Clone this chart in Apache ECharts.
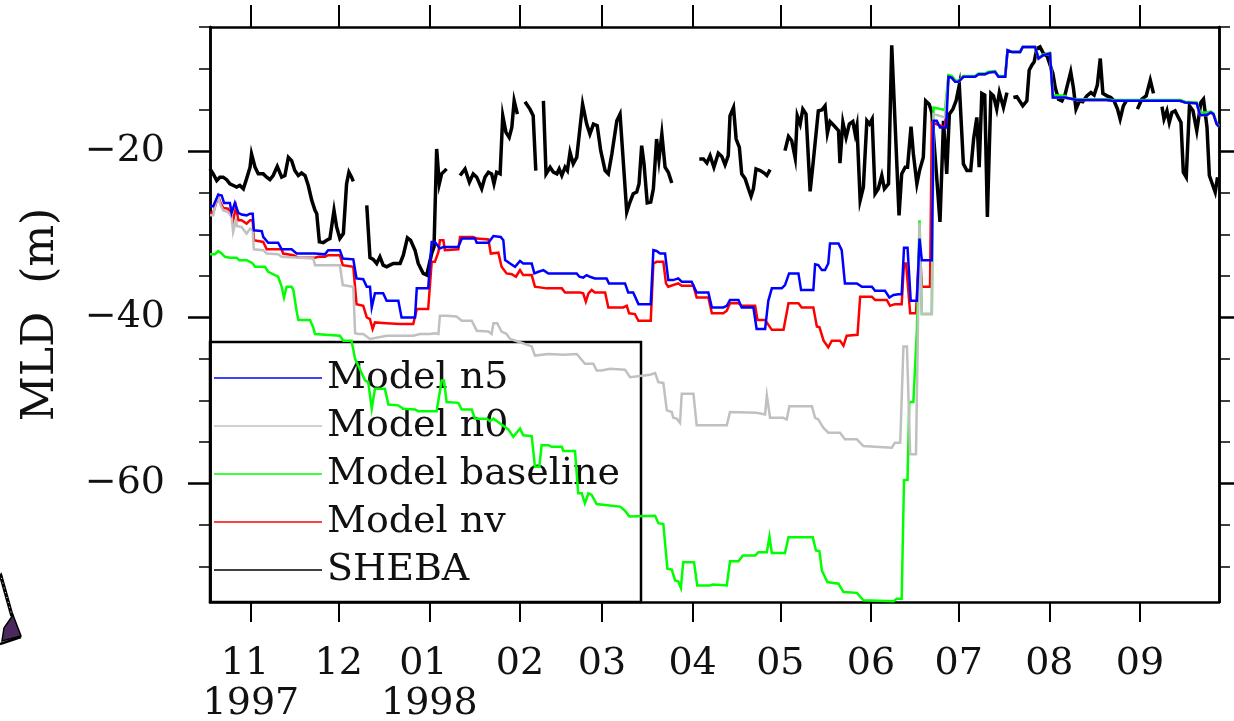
<!DOCTYPE html>
<html>
<head>
<meta charset="utf-8">
<script src="https://cdn.jsdelivr.net/npm/echarts@6/dist/echarts.min.js"></script>
<style>
  html, body { margin: 0; padding: 0; background: #fff; }
  #chart { width: 1234px; height: 721px; }
</style>
</head>
<body>
<div id="chart"></div>
<script>
// Mixed-layer depth (m, negative downward) during SHEBA, Oct 1997 - Sep 1998.
// Time is in days of 1997 (1 = 1 Jan 1997, 366 = 1 Jan 1998).

const monthDays   = [305, 335, 366, 397, 425, 456, 486, 517, 547, 578, 609];
const monthLabels = ['11 \n1997', '12', '01 \n1998', '02', '03', '04', '05', '06', '07', '08', '09'];
const depthTicks      = [-60, -40, -20];
const depthMinorTicks = [-70, -65, -55, -50, -45, -35, -30, -25, -15, -10, -5];

// SHEBA observed MLD; null marks a gap in the record
const sheba = [
  [291.0,-22.1],[292.1,-22.7],[293.3,-23.5],[294.4,-23.1],[295.5,-23.1],[296.7,-23.4],[297.8,-23.9],[299.0,-24.1],[300.1,-24.3],[301.2,-24.1],
  [302.4,-24.5],[303.5,-23.3],[304.7,-21.9],[305.2,-20.3],[306.4,-21.9],[307.5,-22.7],[309.2,-22.7],[310.4,-23.1],[311.5,-23.4],[312.6,-22.9],
  [314.0,-21.8],[315.5,-23.1],[316.6,-22.9],[317.8,-20.7],[318.9,-21.1],[320.0,-22.3],[321.2,-22.9],[322.3,-22.6],[323.5,-22.9],[324.6,-24.1],
  [325.8,-25.9],[326.9,-27.1],[327.5,-27.5],[328.4,-30.9],[329.7,-31.0],[330.9,-30.7],[332.0,-30.5],[333.4,-27.1],[334.3,-29.1],[335.4,-30.5],
  [336.6,-29.9],[337.7,-23.9],[338.5,-22.5],[339.4,-23.1],[340.0,-23.6],[342.0,null],
  [344.6,-26.5],[345.7,-32.8],[346.8,-33.0],[348.0,-33.5],[349.1,-32.7],[350.2,-33.7],[351.4,-33.9],[352.5,-33.7],[353.7,-33.5],[356.0,-33.5],
  [357.1,-32.5],[358.5,-30.4],[359.6,-30.7],[361.1,-31.9],[362.2,-33.5],[363.9,-34.7],[365.1,-34.9],[366.8,-32.3],[367.6,-31.5],[368.5,-19.7],
  [369.4,-23.9],[370.2,-22.7],[371.9,-22.1],[374.0,null],
  [376.5,-22.9],[378.2,-22.1],[379.7,-23.7],[381.0,-22.7],[382.2,-23.1],[383.9,-24.5],[385.0,-23.1],[386.2,-22.5],[387.3,-22.7],[388.1,-23.9],
  [389.0,-22.5],[390.2,-22.7],[391.1,-15.7],[392.2,-17.7],[393.3,-18.3],[394.2,-17.1],[395.0,-13.9],[396.1,-15.5],[397.5,null],
  [398.7,-14.0],[400.4,-14.9],[401.5,-15.7],[402.4,-22.3],[403.7,null],
  [405.0,-13.9],[405.9,-22.7],[407.3,-21.9],[408.4,-22.5],[409.6,-22.7],[410.4,-22.1],[411.3,-22.9],[412.4,-21.9],[413.2,-22.3],[414.1,-20.1],
  [415.2,-21.5],[416.4,-20.7],[418.4,-14.3],[419.8,-16.7],[420.9,-17.9],[422.1,-16.7],[423.4,-16.9],[424.6,-19.9],[426.1,-22.3],[427.2,-22.7],
  [428.4,-20.3],[430.1,-16.3],[431.2,-15.5],[433.5,-27.3],[434.6,-26.1],[435.7,-25.1],[436.9,-24.9],[437.7,-23.9],[438.6,-19.3],[439.4,-21.5],
  [440.5,-26.2],[441.7,-26.1],[442.6,-24.5],[443.7,-18.5],[444.5,-21.0],[445.5,-17.9],[446.6,-21.9],[447.7,-22.5],[448.9,-23.8],[453.0,null],
  [458.3,-20.9],[459.7,-20.9],[460.9,-21.4],[462.0,-20.5],[463.3,-21.9],[464.8,-20.2],[466.0,-20.6],[467.1,-21.6],[468.2,-20.5],[468.8,-15.7],
  [470.0,-14.7],[470.9,-18.5],[472.0,-19.5],[472.8,-22.7],[474.0,-23.3],[475.1,-24.5],[476.0,-25.4],[476.8,-24.5],[477.7,-22.1],[479.1,-22.3],
  [480.5,-22.6],[481.4,-22.9],[482.5,-22.2],[485.0,null],
  [487.6,-19.9],[488.8,-18.2],[489.9,-18.7],[491.1,-20.8],[491.8,-15.7],[492.8,-16.7],[493.7,-14.9],[494.8,-15.5],[496.2,-24.8],[497.3,-21.1],
  [499.0,-15.1],[500.2,-15.0],[501.3,-14.5],[502.1,-17.8],[503.0,-16.4],[504.4,-16.9],[505.9,-17.5],[506.4,-21.4],[507.4,-16.5],[508.5,-18.3],
  [509.6,-16.7],[510.8,-16.4],[511.6,-17.9],[512.2,-16.9],[513.3,-25.9],[514.4,-24.3],[515.6,-16.3],[516.5,-16.7],[517.4,-16.1],[518.4,-25.1],
  [519.5,-24.5],[520.7,-22.9],[521.6,-24.5],[523.0,-23.9],[524.1,-7.2],[526.6,-27.7],[527.5,-22.7],[528.7,-21.9],[529.5,-21.9],[530.7,-17.0],
  [531.5,-20.3],[532.7,-23.9],[533.6,-22.3],[534.9,-20.7],[535.7,-13.9],[536.9,-14.3],[537.8,-15.3],[539.3,-22.3],[540.6,-28.5],[541.8,-16.3],
  [542.9,-22.7],[543.8,-15.5],[545.0,-14.9],[546.1,-13.9],[547.2,-12.0],[548.6,-21.5],[549.8,-22.3],[551.1,-22.3],[552.1,-18.5],[553.2,-15.9],
  [554.0,-21.9],[554.9,-13.0],[555.9,-13.2],[556.8,-27.9],[558.0,-13.0],[558.9,-13.3],[560.0,-14.9],[560.9,-12.9],[562.3,-14.7],[563.5,-12.9],
  [564.6,null],
  [565.7,-13.5],[566.9,-13.4],[567.8,-13.9],[568.9,-14.5],[570.3,-13.9],[571.1,-10.2],[572.0,-9.6],[572.8,-9.2],[573.7,-7.6],[574.8,-7.4],
  [576.0,-8.2],[577.2,-8.5],[579.2,-10.6],[580.0,-12.3],[581.1,-13.7],[582.3,-13.9],[583.4,-13.1],[585.3,-10.4],[586.2,-12.3],[587.1,-14.9],
  [588.3,-13.9],[589.4,-14.0],[590.8,-13.3],[592.2,-12.9],[593.3,-13.2],[594.4,-12.0],[595.4,-8.8],[596.3,-13.0],[597.7,-13.3],[599.0,-13.5],
  [600.1,-13.9],[601.3,-14.9],[602.2,-16.1],[603.3,-14.5],[604.3,-13.9],[606.0,null],
  [608.1,-14.9],[609.6,-13.7],[611.1,-13.3],[612.5,-11.4],[613.6,-13.0],[615.0,null],
  [616.5,-14.6],[617.2,-16.1],[618.2,-15.1],[619.0,-16.5],[619.9,-15.3],[621.0,-15.1],[622.1,-15.9],[623.0,-16.5],[623.8,-22.5],[624.8,-23.1],
  [625.9,-14.5],[627.1,-15.1],[628.4,-17.5],[629.8,-14.1],[630.7,-13.7],[631.9,-17.1],[632.7,-22.9],[633.9,-24.1],[634.7,-24.9],[635.5,-23.1]
];

// Model runs through the freezing season
const modelN5 = [
  [291.0,-26.6],[292.1,-26.6],[293.8,-25.2],[295.0,-25.3],[295.8,-26.2],[297.8,-26.2],[298.4,-27.4],[298.9,-27.4],[299.5,-26.2],[300.1,-26.2],
  [300.7,-27.4],[301.8,-27.6],[303.5,-27.7],[304.7,-27.5],[305.6,-27.5],[306.0,-29.5],[308.7,-29.6],[309.2,-30.3],[310.9,-31.0],[314.3,-31.0],
  [315.5,-31.8],[318.9,-31.8],[320.6,-32.3],[326.9,-32.3],[327.5,-32.4],[330.3,-32.4],[331.4,-31.9],[335.4,-31.9],[336.4,-32.9],[340.0,-33.0],
  [341.1,-35.3],[343.4,-35.4],[344.6,-36.3],[345.7,-36.3],[346.3,-38.8],[347.4,-37.1],[350.2,-37.1],[351.4,-38.0],[355.4,-38.0],[356.5,-40.0],
  [361.1,-40.0],[361.7,-36.5],[365.6,-36.5],[366.8,-30.9],[367.9,-30.9],[369.6,-31.7],[370.8,-31.5],[375.9,-31.5],[377.1,-30.5],[381.6,-30.5],
  [382.2,-31.0],[386.2,-31.0],[387.9,-30.2],[390.4,-30.3],[391.3,-30.7],[391.9,-33.1],[393.6,-33.5],[395.3,-33.9],[397.0,-33.2],[398.1,-33.5],
  [401.0,-33.5],[401.9,-34.7],[403.3,-34.5],[405.0,-34.3],[406.7,-34.7],[416.4,-34.7],[417.3,-35.1],[418.6,-35.2],[419.8,-34.9],[420.9,-35.1],
  [422.6,-35.3],[426.6,-35.3],[427.4,-35.9],[432.9,-35.9],[434.0,-37.0],[435.7,-37.0],[437.5,-38.4],[441.7,-38.4],[442.6,-31.9],[443.7,-32.0],
  [444.9,-32.3],[446.6,-32.3],[447.7,-35.5],[449.4,-35.5],[451.1,-35.3],[452.3,-35.7],[455.7,-35.7],[457.4,-37.0],[461.4,-37.0],[462.6,-38.8],
  [466.5,-38.8],[467.7,-38.6],[468.8,-37.9],[471.7,-37.9],[472.8,-38.8],[476.8,-38.8],[477.9,-41.4],[480.8,-41.4],[481.9,-38.0],[483.1,-36.5],
  [486.5,-36.5],[487.6,-36.1],[489.0,-34.7],[492.2,-34.7],[493.1,-36.7],[497.3,-36.7],[497.9,-33.6],[499.0,-33.7],[500.2,-34.3],[501.3,-34.3],
  [502.4,-33.5],[503.0,-31.1],[505.9,-31.1],[507.0,-31.9],[508.1,-35.9],[512.2,-35.9],[513.9,-36.3],[517.3,-36.3],[518.4,-36.8],[521.8,-36.8],
  [523.3,-37.6],[524.7,-37.3],[526.4,-37.2],[527.5,-37.2],[528.3,-31.6],[529.5,-31.6],[530.6,-38.0],[532.7,-38.0],[533.6,-30.5],[534.4,-33.1],
  [537.8,-33.1],[538.4,-16.3],[539.5,-16.3],[540.6,-17.1],[542.7,-17.1]
];

const modelNv = [
  [291.0,-27.4],[292.1,-27.4],[293.8,-25.4],[294.6,-26.2],[295.5,-26.8],[297.2,-26.9],[297.8,-27.1],[298.9,-28.3],[299.9,-26.7],[300.7,-28.3],
  [301.8,-28.3],[303.5,-28.7],[304.7,-28.3],[305.6,-28.3],[306.0,-30.7],[309.2,-30.9],[310.4,-31.8],[315.5,-31.8],[316.0,-32.3],[319.5,-32.5],
  [321.2,-32.8],[326.9,-32.8],[328.0,-32.7],[330.3,-32.7],[331.4,-32.5],[335.4,-32.5],[336.4,-33.7],[340.0,-33.9],[341.1,-38.4],[343.4,-38.6],
  [344.6,-40.0],[345.7,-40.2],[346.6,-41.4],[347.4,-40.6],[351.4,-40.7],[355.9,-40.8],[360.5,-40.8],[361.1,-41.0],[361.7,-39.0],[365.6,-39.0],
  [366.8,-33.3],[367.9,-33.3],[369.1,-32.1],[369.6,-30.7],[370.8,-30.7],[371.3,-31.9],[375.9,-31.8],[376.5,-30.3],[381.0,-30.3],[382.2,-30.5],
  [386.2,-30.6],[387.0,-32.3],[389.6,-32.2],[390.7,-33.9],[392.4,-34.7],[394.2,-34.8],[395.6,-35.1],[397.0,-34.3],[398.1,-34.9],[401.0,-34.9],
  [402.1,-36.3],[406.1,-36.5],[411.3,-36.5],[412.4,-37.0],[417.5,-37.0],[418.6,-37.1],[419.5,-38.1],[420.4,-37.1],[421.5,-36.7],[422.6,-37.0],
  [426.1,-37.0],[427.2,-38.8],[432.3,-38.8],[433.5,-38.6],[434.3,-39.5],[436.3,-39.6],[437.5,-40.4],[441.7,-40.4],[442.6,-33.5],[443.7,-33.3],
  [446.0,-33.3],[446.9,-35.9],[447.7,-36.3],[449.4,-36.1],[451.1,-35.9],[452.3,-36.2],[456.3,-36.2],[457.4,-37.6],[461.4,-37.6],[462.6,-39.5],
  [466.5,-39.5],[467.7,-39.2],[468.8,-38.3],[471.7,-38.3],[472.8,-38.6],[477.4,-38.6],[478.2,-40.3],[480.8,-40.3],[483.1,-41.5],[487.1,-41.5],
  [488.8,-38.3],[492.2,-38.3],[493.3,-38.8],[497.3,-38.8],[498.5,-41.1],[499.4,-41.2],[500.8,-42.8],[502.4,-43.6],[503.6,-42.8],[506.4,-42.8],
  [507.6,-43.4],[508.7,-42.2],[512.4,-42.1],[513.3,-37.5],[517.3,-37.5],[518.4,-37.9],[522.4,-37.9],[523.5,-38.6],[525.2,-38.4],[527.5,-38.4],
  [528.3,-33.5],[529.0,-33.5],[530.4,-39.5],[532.4,-39.5],[533.6,-31.0],[534.4,-36.3],[537.2,-36.3],[537.8,-16.5],[538.4,-16.3],[542.3,-17.1]
];

const modelN0 = [
  [291.0,-27.7],[292.1,-27.7],[293.0,-26.1],[293.8,-25.5],[294.6,-26.5],[295.5,-27.1],[297.2,-27.3],[298.4,-27.9],[298.9,-29.7],[299.9,-28.3],
  [300.3,-29.0],[301.8,-29.1],[303.5,-29.9],[304.7,-29.3],[305.6,-29.5],[306.0,-31.8],[309.2,-31.9],[310.4,-32.3],[314.3,-32.4],[315.5,-32.7],
  [326.3,-32.9],[326.9,-33.7],[335.4,-33.7],[336.4,-36.1],[340.0,-36.3],[340.6,-41.9],[341.7,-42.0],[343.4,-42.0],[345.7,-42.6],[351.4,-42.2],
  [360.5,-42.2],[362.8,-42.0],[366.2,-42.0],[367.9,-41.9],[369.1,-42.0],[369.6,-39.8],[371.9,-39.8],[375.3,-39.9],[377.1,-40.4],[380.5,-40.4],
  [382.2,-41.6],[386.2,-41.7],[387.3,-42.0],[387.9,-40.7],[389.2,-40.7],[390.7,-41.7],[392.4,-42.0],[393.6,-42.6],[397.0,-43.0],[401.0,-43.5],
  [402.1,-44.6],[406.7,-44.4],[411.8,-44.5],[416.4,-44.4],[419.2,-45.6],[422.1,-45.6],[423.2,-46.4],[424.9,-46.4],[427.8,-46.2],[432.9,-46.3],
  [434.6,-47.2],[441.5,-46.9],[443.2,-46.7],[444.3,-47.8],[446.0,-47.9],[447.2,-51.2],[448.9,-51.4],[449.4,-52.1],[450.6,-52.2],[451.7,-52.7],
  [452.3,-49.2],[456.3,-49.2],[457.4,-53.0],[467.7,-53.0],[468.8,-51.4],[477.9,-51.5],[480.8,-51.7],[481.4,-49.4],[482.5,-52.1],[487.0,-52.1],
  [488.2,-52.3],[489.1,-50.7],[496.8,-50.7],[497.9,-52.1],[499.0,-52.3],[500.7,-53.3],[502.4,-53.9],[506.4,-53.9],[508.1,-54.7],[512.2,-54.7],
  [514.4,-55.5],[518.4,-55.6],[524.1,-55.7],[525.2,-55.1],[527.0,-55.1],[528.1,-43.5],[529.3,-43.5],[530.4,-56.5],[532.4,-56.5],[533.6,-28.6],
  [534.4,-39.6],[537.8,-39.6],[538.4,-15.5],[542.3,-15.9]
];

const modelBaseline = [
  [291.0,-32.4],[292.7,-32.4],[293.8,-32.0],[295.0,-32.3],[296.1,-32.7],[297.8,-32.8],[298.9,-32.8],[300.1,-32.8],[301.0,-33.1],[302.4,-33.1],
  [303.5,-33.1],[304.7,-33.3],[305.6,-33.5],[306.4,-33.9],[309.8,-33.9],[310.9,-34.5],[314.3,-35.1],[315.5,-36.3],[316.3,-37.6],[317.2,-36.3],
  [318.9,-36.3],[319.5,-36.7],[320.6,-39.2],[321.2,-40.3],[325.2,-40.3],[326.3,-41.2],[326.9,-42.0],[335.4,-42.2],[336.6,-42.8],[339.4,-42.8],
  [340.6,-45.0],[341.7,-45.8],[344.0,-47.6],[345.1,-47.8],[346.3,-51.0],[347.4,-48.6],[350.8,-48.6],[352.0,-50.5],[355.4,-50.6],[357.1,-51.0],
  [361.1,-51.1],[362.2,-51.3],[368.5,-51.3],[370.2,-47.6],[371.0,-47.6],[371.9,-50.2],[375.9,-50.3],[377.1,-51.1],[380.5,-51.1],[381.6,-52.2],
  [385.6,-52.2],[386.7,-52.5],[387.9,-52.2],[390.2,-52.8],[393.0,-53.5],[394.7,-54.4],[397.0,-53.4],[398.1,-54.2],[401.0,-54.3],[402.1,-58.0],
  [403.6,-58.0],[404.4,-55.4],[406.7,-55.4],[407.8,-55.6],[411.3,-55.6],[411.8,-56.1],[415.8,-56.1],[416.9,-61.2],[418.1,-61.2],[419.2,-62.4],
  [420.4,-61.2],[421.5,-61.4],[423.2,-62.5],[428.4,-62.7],[431.2,-62.8],[432.9,-63.3],[434.4,-64.0],[443.2,-63.9],[444.3,-64.8],[446.0,-64.9],
  [447.4,-70.3],[448.9,-70.4],[450.0,-71.7],[451.1,-71.8],[452.0,-72.6],[452.8,-69.5],[456.5,-69.5],[457.6,-72.3],[462.0,-72.3],[462.9,-72.2],
  [467.7,-72.3],[468.8,-69.4],[471.7,-69.4],[473.2,-68.7],[477.4,-68.7],[478.5,-68.3],[481.4,-68.3],[482.3,-66.4],[483.1,-68.4],[487.6,-68.4],
  [488.8,-66.5],[497.1,-66.5],[498.2,-68.1],[499.4,-68.2],[500.2,-70.5],[502.1,-71.9],[505.9,-72.1],[507.6,-73.1],[512.2,-73.2],[514.4,-74.1],
  [524.7,-74.2],[525.8,-73.9],[527.5,-73.9],[528.3,-59.6],[529.5,-59.6],[530.1,-50.2],[531.5,-50.2],[532.7,-41.6],[533.6,-28.3],[534.4,-39.6],
  [537.8,-39.6],[538.4,-14.7],[542.3,-15.0]
];

// After the melt onset the runs nearly coincide
const summerModel = [
  [543.5,-11.0],[544.6,-11.1],[545.8,-11.6],[546.9,-11.6],[548.6,-11.0],[552.6,-11.0],[553.8,-10.7],[556.0,-10.7],[557.2,-10.5],[559.4,-10.4],
  [560.6,-11.0],[562.9,-11.0],[563.7,-7.8],[565.2,-8.0],[568.0,-8.0],[568.9,-7.4],[573.1,-7.4],[574.3,-8.8],[575.9,-8.4],[578.2,-8.2],
  [579.2,-13.5],[583.4,-13.5],[583.9,-13.7],[587.4,-13.8],[597.6,-13.8],[599.4,-13.9],[622.7,-13.9],[624.4,-14.1],[628.4,-14.2],[629.5,-15.6],
  [631.8,-15.6],[633.2,-15.3],[634.1,-15.5],[635.2,-16.7],[636.0,-17.0]
];
const summerBaseline = [
  [543.5,-10.8],[544.6,-10.9],[545.8,-11.4],[546.9,-11.5],[548.6,-10.9],[552.6,-10.9],[553.8,-10.6],[556.0,-10.6],[557.2,-10.4],[559.4,-10.3],
  [560.6,-10.9],[562.9,-10.9],[563.7,-7.8],[565.2,-8.0],[568.0,-8.0],[568.9,-7.4],[573.1,-7.4],[574.3,-8.7],[575.9,-8.3],[578.2,-8.1],
  [579.2,-13.2],[583.4,-13.3],[583.9,-13.6],[587.4,-13.7],[597.6,-13.7],[599.4,-13.8],[622.7,-13.8],[624.4,-14.0],[628.4,-14.1],[629.5,-15.3],
  [631.8,-15.3],[633.2,-15.2],[634.1,-15.4],[635.2,-16.6],[636.0,-16.9]
];

const DAY_MIN = 291.0, DAY_MAX = 636.0;
const MLD_MIN = -74.3, MLD_MAX = -5;

const FONT = 'DejaVu Serif';
const INK = '#111';

const asSeriesData = pts => pts.map(([d, v]) => [d, v === null ? '-' : v]);

function lineSeries(name, pts, color, width) {
  return {
    name, type: 'line', data: asSeriesData(pts),
    symbol: 'none', showSymbol: false, connectNulls: false,
    lineStyle: { color, width, join: 'miter' },
    itemStyle: { color },
    emphasis: { disabled: true },
    animation: false
  };
}

function dayAxis(position, showLabels, tickLen) {
  return {
    type: 'value', position, min: DAY_MIN, max: DAY_MAX,
    axisLine: { show: true, onZero: false, lineStyle: { color: '#000', width: 2.5 } },
    axisTick: { show: true, inside: false, length: tickLen, customValues: monthDays,
                lineStyle: { color: '#000', width: 2 } },
    axisLabel: showLabels ? {
      show: true, customValues: monthDays,
      formatter: v => monthLabels[monthDays.indexOf(v)],
      margin: 42, fontFamily: FONT, fontSize: 38, lineHeight: 40, color: INK
    } : { show: false },
    splitLine: { show: false }
  };
}

function depthAxis(position, ticks, tickLen, tickWidth, extra) {
  return Object.assign({
    type: 'value', position, min: MLD_MIN, max: MLD_MAX,
    axisLine: { show: true, onZero: false, lineStyle: { color: '#000', width: 2.5 } },
    axisTick: { show: true, inside: false, length: tickLen, customValues: ticks,
                lineStyle: { color: '#000', width: tickWidth } },
    axisLabel: { show: false },
    splitLine: { show: false }
  }, extra || {});
}

const chart = echarts.init(document.getElementById('chart'), null, { renderer: 'canvas' });

chart.setOption({
  animation: false,
  backgroundColor: '#fff',
  grid: { left: 210, top: 27, width: 1009, height: 575, outerBoundsMode: 'none', containLabel: false },
  xAxis: [
    dayAxis('bottom', true, 20),
    dayAxis('top', false, 22)
  ],
  yAxis: [
    depthAxis('left', depthTicks, 22, 2.5, {
      axisLabel: {
        show: true, customValues: depthTicks,
        formatter: v => '\u2212' + Math.abs(v),
        margin: 45, fontFamily: FONT, fontSize: 38, color: INK
      },
      name: 'MLD  (m)', nameLocation: 'middle', nameRotate: 90, nameGap: 146,
      nameTextStyle: { fontFamily: FONT, fontSize: 44, color: INK }
    }),
    depthAxis('left', depthMinorTicks, 11, 1.5),
    depthAxis('right', depthTicks, 22, 2.5),
    depthAxis('right', depthMinorTicks, 11, 1.5)
  ],
  legend: {
    orient: 'vertical', left: 214, top: 359, padding: 0, z: 1,
    icon: 'rect', itemWidth: 108, itemHeight: 1.5, itemGap: 10,
    data: ['Model n5', 'Model n0', 'Model baseline', 'Model nv', 'SHEBA'],
    textStyle: { fontFamily: FONT, fontSize: 38, lineHeight: 38, color: INK },
    selectedMode: false
  },
  graphic: [
    { type: 'rect', z: 0, silent: true,
      shape: { x: 210, y: 342, width: 431, height: 260 },
      style: { fill: '#fff', stroke: '#000', lineWidth: 2.5 } },
    // fragment of a neighbouring panel at the lower-left margin
    { type: 'line', z: 0, silent: true,
      shape: { x1: 0, y1: 573, x2: 12, y2: 616 },
      style: { stroke: '#000', lineWidth: 3.5 } },
    { type: 'line', z: 0, silent: true,
      shape: { x1: 0, y1: 573, x2: 12, y2: 616 },
      style: { stroke: '#fff', lineWidth: 1, lineDash: [1, 4] } },
    { type: 'polygon', z: 0, silent: true,
      shape: { points: [[4, 628], [13, 615], [21, 636], [2, 641]] },
      style: { fill: '#4a2a5e', stroke: '#000', lineWidth: 1.5 } },
    { type: 'line', z: 0, silent: true,
      shape: { x1: 0, y1: 644, x2: 21, y2: 637 },
      style: { stroke: '#000', lineWidth: 2.5 } }
  ],
  series: [
    lineSeries('SHEBA', sheba, '#000000', 3.5),
    lineSeries('Model nv', modelNv.concat(summerModel), '#ff0000', 2.5),
    lineSeries('Model baseline', modelBaseline.concat(summerBaseline), '#00ff00', 2.5),
    lineSeries('Model n0', modelN0.concat(summerModel), '#c0c0c0', 2.5),
    lineSeries('Model n5', modelN5.concat(summerModel), '#0000ff', 2.5)
  ]
});
</script>
</body>
</html>
